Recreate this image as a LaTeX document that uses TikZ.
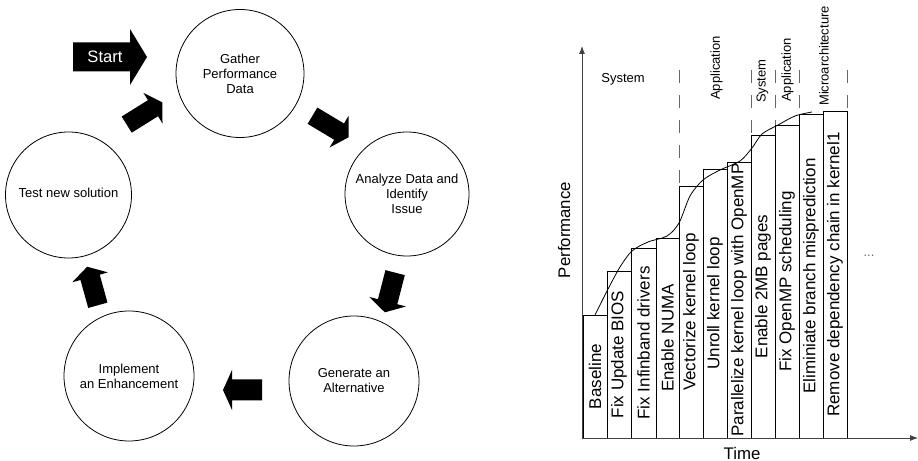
\documentclass[tikz,border=0pt]{standalone}
\usepackage{fontspec}
\setmainfont{Liberation Sans}
\usetikzlibrary{arrows.meta}
\newcommand\blockarr[7]{\fill[shift={(#1,#2)},rotate=#3] ({-(#4)/2},{-(#5)/2}) -- ({(#4)/2-(#7)},{-(#5)/2}) -- ({(#4)/2-(#7)},{-(#6)/2}) -- ({(#4)/2},0) -- ({(#4)/2-(#7)},{(#6)/2}) -- ({(#4)/2-(#7)},{(#5)/2}) -- ({-(#4)/2},{(#5)/2}) -- cycle;}
\begin{document}
\begin{tikzpicture}[x=1bp,y=-1bp,
  stage/.style={circle,draw,line width=0.8bp,inner sep=0pt,align=center,
    font=\fontsize{13bp}{15bp}\selectfont},
  bartext/.style={rotate=90,inner sep=0pt,font=\fontsize{17bp}{20bp}\selectfont},
  seclabel/.style={inner sep=0pt,font=\fontsize{13bp}{15bp}\selectfont},
  axlabel/.style={inner sep=0pt,font=\fontsize{16.8bp}{20bp}\selectfont},
  sep/.style={black!60,line width=0.8bp,dash pattern=on 13bp off 12bp},
  axis/.style={black!75,line width=0.8bp,-{Latex[length=8bp,width=6bp]}}]
\useasboundingbox (0,0) rectangle (918,461);
% ---------- cycle ----------
\node[stage,minimum size=128bp] (gather) at (240,73.5) {Gather\\Performance\\Data};
\node[stage,minimum size=124bp] (analyze) at (407,194) {Analyze Data and\\Identify\\Issue};
\node[stage,minimum size=130bp] (generate) at (354,381) {Generate an\\Alternative};
\node[stage,minimum size=130bp] (implement) at (129,376) {Implement\\an Enhancement};
\node[stage,minimum size=126bp] (test) at (68.5,195) {\raisebox{5bp}{Test new solution}};
% block arrows
\blockarr{110}{57}{0}{74}{29}{56}{17}
\node[inner sep=0pt,text=white,font=\fontsize{16.6bp}{20bp}\selectfont] (start) at (105,57) {Start};
\blockarr{144.5}{113.5}{32}{42}{19}{36}{11}
\blockarr{330.5}{126.5}{-31}{42}{19}{37}{11}
\blockarr{390}{292.5}{-104.5}{41}{20}{38}{11}
\blockarr{242.5}{390}{180}{39}{21}{40}{9}
\blockarr{92.5}{286}{105.5}{40}{20}{37}{11}
% ---------- chart ----------
\coordinate (origin) at (582,438);
\coordinate (ytop) at (582,46);
\coordinate (xend) at (918,438);
\foreach \a/\b/\t/\txt [count=\i] in {
  583/607/315/Baseline,
  607/631/271/Fix Update BIOS,
  631/656/248/Fix Infinband drivers,
  656/679/238/Enable NUMA,
  679/703/186/Vectorize kernel loop,
  703/727/169/Unroll kernel loop,
  727/751/162/Parallelize kernel loop with OpenMP,
  751/775/135/Enable 2MB pages,
  775/799/125/Fix OpenMP scheduling,
  799/823/114/Eliminiate branch misprediction,
  823/847/111/Remove dependency chain in kernel1}{
  \draw[line width=0.8bp] (\a,438) rectangle (\b,\t);
  \node[bartext] (bar\i) at ({(\a+\b)/2},{(\t+438)/2}) {\txt};
}
\draw[axis] (origin) -- (ytop);
\draw[axis] (origin) -- (xend);
\draw[line width=0.8bp] plot[smooth,tension=0.5] coordinates {(595,315) (607,291) (620,267) (632,251) (648,242) (667,236) (679,223) (690,196) (703,180) (720,170) (740,161) (752,148) (762,134) (778,125) (795,116) (812,112)};
% separators
\draw[sep] (679,70) -- (679,186);
\draw[sep] (751,70) -- (751,135);
\draw[sep] (775,70) -- (775,125);
\draw[sep] (799,70) -- (799,114);
\draw[sep] (847,70) -- (847,111);
% section labels
\node[seclabel] (sys1) at (623,79) {System};
\node[seclabel,rotate=90,anchor=west] (app1) at (716.5,100) {Application};
\node[seclabel,rotate=90,anchor=west] (sys2) at (762.5,103) {System};
\node[seclabel,rotate=90,anchor=west] (app2) at (787.5,102) {Application};
\node[seclabel,rotate=90,anchor=west] (micro) at (824,106) {Microarchitecture};
% axis labels
\node[axlabel,rotate=90] (perf) at (564,230) {Performance};
\node[axlabel] (time) at (742,453) {Time};
\node[seclabel,text=black!60] (dots) at (869,256) {...};
\end{tikzpicture}
\end{document}
